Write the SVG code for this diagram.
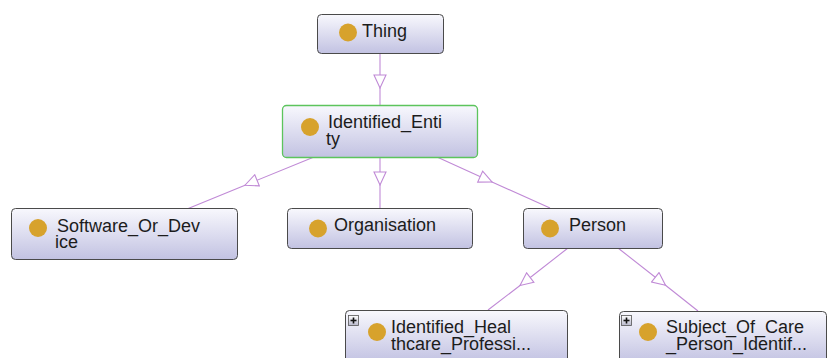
<svg xmlns="http://www.w3.org/2000/svg" width="832" height="358" viewBox="0 0 832 358">
  <defs>
    <linearGradient id="nodeFill" x1="0" y1="0" x2="0" y2="1">
      <stop offset="0" stop-color="#f8f8fd"/>
      <stop offset="1" stop-color="#c2c2e2"/>
    </linearGradient>
    <linearGradient id="plusFill" x1="0" y1="0" x2="0" y2="1">
      <stop offset="0" stop-color="#ffffff"/>
      <stop offset="1" stop-color="#b8b8cc"/>
    </linearGradient>
    <marker id="subArrow" viewBox="-1 -7 15 14" markerWidth="15" markerHeight="14" refX="13" refY="0" orient="auto" markerUnits="userSpaceOnUse">
      <path d="M0,-6 L13,0 L0,6 Z" fill="#ffffff" stroke="#c08ad6" stroke-width="1.1"/>
    </marker>
  </defs>
  <style>
    .box { fill: url(#nodeFill); stroke: #4a4a4a; stroke-width: 1; }
    .box.sel { stroke: #5cc45c; stroke-width: 1.3; }
    .dot { fill: #d7a22c; }
    .label { font-family: "Liberation Sans", Arial, sans-serif; font-size: 18px; fill: #1c1c1c; }
    .edge { fill: none; stroke: #c08ad6; stroke-width: 1.1; marker-mid: url(#subArrow); }
    .plus { fill: url(#plusFill); stroke: #555; stroke-width: 0.8; }
    .plusSign { stroke: #111; stroke-width: 1.6; }
  </style>
  <rect width="832" height="358" fill="#ffffff"/>

  <g id="connectors">
    <path class="edge" d="M380,53 L380,88 L380,105"/>
    <path class="edge" d="M314,157 L245,185.2 L187,209"/>
    <path class="edge" d="M380,157 L380,185 L380,208"/>
    <path class="edge" d="M437,157 L492,182 L550,208"/>
    <path class="edge" d="M568,248 L520,285.5 L488,310"/>
    <path class="edge" d="M618,248 L665.5,285.3 L698,311"/>
  </g>

  <g id="Thing">
    <rect class="box" x="317.5" y="14.5" width="126" height="39" rx="4"/>
    <circle class="dot" cx="348" cy="32.5" r="9"/>
    <text class="label" x="362" y="37">Thing</text>
  </g>

  <g id="Identified_Entity">
    <rect class="box sel" x="282.5" y="105.5" width="195" height="52" rx="4"/>
    <circle class="dot" cx="310" cy="127" r="9"/>
    <text class="label" x="328" y="128">Identified_Enti<tspan x="326" dy="17">ty</tspan></text>
  </g>

  <g id="Software_Or_Device">
    <rect class="box" x="11.5" y="208.5" width="226" height="51" rx="4"/>
    <circle class="dot" cx="38" cy="228" r="9"/>
    <text class="label" x="57" y="232">Software_Or_Dev<tspan x="55" dy="16">ice</tspan></text>
  </g>

  <g id="Organisation">
    <rect class="box" x="287.5" y="208.5" width="185" height="40" rx="4"/>
    <circle class="dot" cx="318" cy="228.5" r="9"/>
    <text class="label" x="334" y="231">Organisation</text>
  </g>

  <g id="Person">
    <rect class="box" x="523.5" y="208.5" width="139" height="40" rx="4"/>
    <circle class="dot" cx="550" cy="228.5" r="9"/>
    <text class="label" x="569" y="231">Person</text>
  </g>

  <g id="Identified_Healthcare_Professional">
    <rect class="box" x="345.5" y="310.5" width="222" height="52" rx="4"/>
    <rect class="plus" x="348.5" y="315.5" width="10" height="10"/>
    <line class="plusSign" x1="350.5" y1="320.5" x2="356.5" y2="320.5"/>
    <line class="plusSign" x1="353.5" y1="317.5" x2="353.5" y2="323.5"/>
    <circle class="dot" cx="377" cy="332" r="9"/>
    <text class="label" x="391" y="333">Identified_Heal<tspan x="391" dy="17">thcare_Professi...</tspan></text>
  </g>

  <g id="Subject_Of_Care_Person_Identifier">
    <rect class="box" x="619.5" y="311.5" width="207" height="52" rx="4"/>
    <rect class="plus" x="621.5" y="315.5" width="10" height="10"/>
    <line class="plusSign" x1="623.5" y1="320.5" x2="629.5" y2="320.5"/>
    <line class="plusSign" x1="626.5" y1="317.5" x2="626.5" y2="323.5"/>
    <circle class="dot" cx="648" cy="332" r="9"/>
    <text class="label" x="666" y="333">Subject_Of_Care<tspan x="666" dy="17">_Person_Identif...</tspan></text>
  </g>
</svg>
